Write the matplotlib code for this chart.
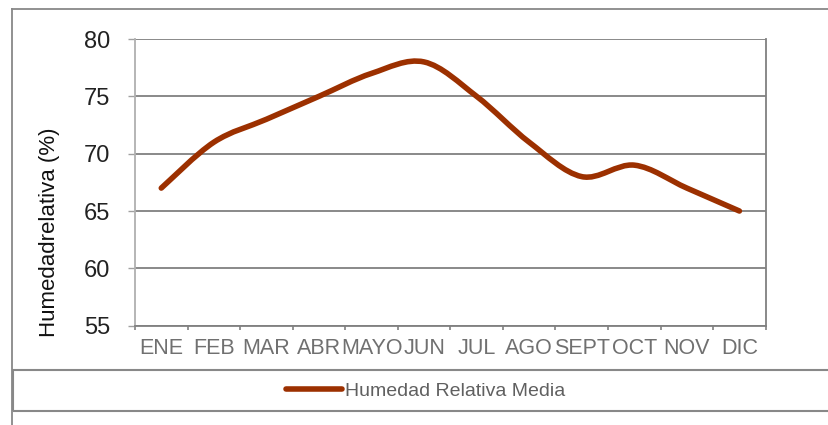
import matplotlib
matplotlib.use("Agg")
import matplotlib.pyplot as plt
from matplotlib.path import Path
from matplotlib.patches import PathPatch, Rectangle
from matplotlib.lines import Line2D

plt.rcParams['font.family'] = ['Liberation Sans', 'DejaVu Sans']

# monthly mean relative humidity (%)
meses = ['ENE', 'FEB', 'MAR', 'ABR', 'MAYO', 'JUN', 'JUL', 'AGO', 'SEPT', 'OCT', 'NOV', 'DIC']
humedad = [67, 71, 73, 75, 77, 78, 75, 71, 68, 69, 67, 65]
y_ticks = [55, 60, 65, 70, 75, 80]

W, H = 829, 425
fig = plt.figure(figsize=(W / 100, H / 100), dpi=100)
ax = fig.add_axes([135 / W, 1 - 325.7 / H, 630.7 / W, 286.7 / H])

# smoothed line like the spreadsheet (catmull-rom -> cubic bezier)
x = list(range(len(humedad)))
pts = list(zip(x, humedad))
verts = [pts[0]]
codes = [Path.MOVETO]
for i in range(len(pts) - 1):
    p0 = pts[i - 1] if i > 0 else pts[i]
    p1 = pts[i]
    p2 = pts[i + 1]
    p3 = pts[i + 2] if i + 2 < len(pts) else pts[i + 1]
    c1 = (p1[0] + (p2[0] - p0[0]) / 6, p1[1] + (p2[1] - p0[1]) / 6)
    c2 = (p2[0] - (p3[0] - p1[0]) / 6, p2[1] - (p3[1] - p1[1]) / 6)
    verts += [c1, c2, p2]
    codes += [Path.CURVE4] * 3
line_color = '#9c3000'
ax.add_patch(PathPatch(Path(verts, codes), facecolor='none', edgecolor=line_color,
                       lw=4, capstyle='round', joinstyle='round', zorder=3))

ax.set_xlim(-0.5, len(meses) - 0.5)
ax.set_ylim(55, 80)
ax.set_yticks(y_ticks)
ax.set_xticks(x)
ax.set_xticklabels(meses)
ax.set_xticks([i - 0.5 for i in range(len(meses) + 1)], minor=True)
ax.tick_params(axis='x', which='major', length=0, pad=9, labelsize=15.5, labelcolor='#707070')
ax.tick_params(axis='x', which='minor', length=3, width=1.2, color='#808080')
ax.tick_params(axis='y', length=5, width=1, color='#a0a0a0', pad=13, labelsize=17, labelcolor='#222222')
ax.grid(axis='y', color='#808080', lw=1.3)
ax.set_axisbelow(True)
for s in ['top']:
    ax.spines[s].set_visible(False)
ax.spines['left'].set_color('#b0b0b0')
ax.spines['right'].set_color('#808080')
ax.spines['bottom'].set_color('#808080')
for s in ['left', 'right', 'bottom']:
    ax.spines[s].set_linewidth(1.3)

ax.set_ylabel('Humedadrelativa (%)', fontsize=16, color='#111111')
ax.yaxis.label.set_va('center')
ax.yaxis.set_label_coords((50 - 135) / 630.7, (325.7 - 232) / 286.7)

# outer chart frame and legend box
fig.add_artist(Line2D([12 / W, 12 / W], [0, 1 - 9 / H], color='#888888', lw=1.3))
fig.add_artist(Line2D([12 / W, 1], [1 - 9 / H, 1 - 9 / H], color='#888888', lw=1.3))
fig.add_artist(Rectangle((13 / W, 1 - 411 / H), 1, 41 / H, facecolor='none',
                         edgecolor='#888888', lw=1.5))

leg = fig.legend([Line2D([], [], color=line_color, lw=4, solid_capstyle='round')],
                 ['Humedad Relativa Media'], loc='center',
                 bbox_to_anchor=(425.5 / W, 1 - 390.7 / H), frameon=False,
                 fontsize=14, handlelength=2.9, handletextpad=0.15,
                 labelcolor='#606060')

fig.savefig('out.png', dpi=100)
